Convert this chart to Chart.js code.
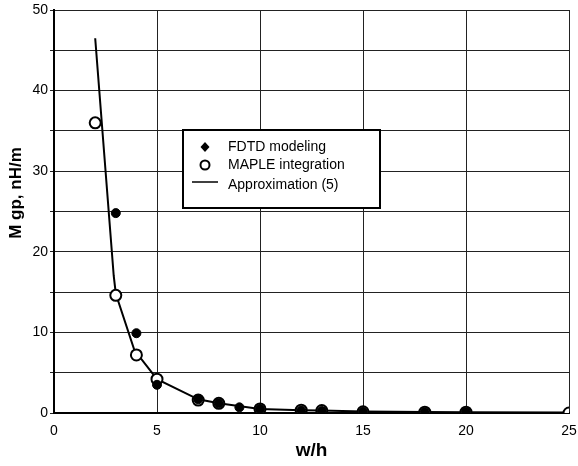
<!DOCTYPE html>
<html>
<head>
<meta charset="utf-8">
<script src="https://cdn.jsdelivr.net/npm/chart.js@4"></script>
<style>
  html, body { margin: 0; padding: 0; background: #fff; }
  #wrap { width: 578px; height: 466px; }
</style>
</head>
<body>
<div id="wrap"><canvas id="mgpChart" width="578" height="466"></canvas></div>
<script>
// data
const fdtdX = [3, 4, 5, 7, 8, 9, 10, 12, 13, 15, 18, 20];
const fdtdY = [24.8, 9.9, 3.5, 1.7, 1.2, 0.7, 0.5, 0.3, 0.25, 0.15, 0.1, 0.1];

const mapleX = [2, 3, 4, 5, 7, 8, 10, 12, 13, 15, 18, 20, 25];
const mapleY = [36, 14.6, 7.2, 4.2, 1.6, 1.2, 0.5, 0.35, 0.3, 0.15, 0.1, 0.1, 0.0];

const approxX = [2, 2.9, 3, 3.9, 5, 7, 8, 10, 12, 13, 15, 18, 20, 25];
const approxY = [46.5, 17, 14.8, 7.8, 4.2, 1.7, 1.2, 0.5, 0.35, 0.3, 0.2, 0.12, 0.1, 0.05];

const xTicks = [0, 5, 10, 15, 20, 25];
const yTicks = [0, 10, 20, 30, 40, 50];

const legendLabels = ["FDTD modeling", "MAPLE integration", "Approximation (5)"];
const yTitle = "M gp, nH/m";

const FONT = "'Liberation Sans', Arial, sans-serif";

const toPoints = (xs, ys) => xs.map((x, i) => ({ x, y: ys[i] }));

// legend box inside the plot + y title (sits a bit above centre in the original)
const boxLegend = {
  id: "boxLegend",
  afterDraw(chart) {
    const ctx = chart.ctx;
    const left = 183, top = 130, w = 197, h = 78;
    ctx.save();
    ctx.fillStyle = "#fff";
    ctx.fillRect(left, top, w, h);
    ctx.strokeStyle = "#000";
    ctx.lineWidth = 2;
    ctx.strokeRect(left, top, w, h);

    ctx.fillStyle = "#000";
    ctx.font = "14px " + FONT;
    ctx.textBaseline = "middle";
    const rows = [147, 165, 185];
    const mx = 205;

    // FDTD marker
    ctx.beginPath();
    ctx.moveTo(mx, rows[0] - 5);
    ctx.lineTo(mx + 4.5, rows[0]);
    ctx.lineTo(mx, rows[0] + 5);
    ctx.lineTo(mx - 4.5, rows[0]);
    ctx.closePath();
    ctx.fill();

    // MAPLE marker
    ctx.beginPath();
    ctx.arc(mx, rows[1], 4.5, 0, Math.PI * 2);
    ctx.lineWidth = 2;
    ctx.stroke();

    // approximation line
    ctx.beginPath();
    ctx.moveTo(192, rows[2] - 3);
    ctx.lineTo(218, rows[2] - 3);
    ctx.lineWidth = 1.5;
    ctx.stroke();

    ctx.fillText(legendLabels[0], 228, rows[0]);
    ctx.fillText(legendLabels[1], 228, rows[1]);
    ctx.fillText(legendLabels[2], 228, rows[2]);

    // y axis title
    ctx.translate(16, 193);
    ctx.rotate(-Math.PI / 2);
    ctx.font = "bold 17px " + FONT;
    ctx.textAlign = "center";
    ctx.fillText(yTitle, 0, 0);
    ctx.restore();
  }
};

new Chart(document.getElementById("mgpChart").getContext("2d"), {
  type: "scatter",
  data: {
    datasets: [
      {
        label: legendLabels[2],
        data: toPoints(approxX, approxY),
        showLine: true,
        borderColor: "#000",
        borderWidth: 2,
        pointRadius: 0,
        tension: 0,
        order: 3
      },
      {
        label: legendLabels[1],
        data: toPoints(mapleX, mapleY),
        showLine: false,
        pointStyle: "circle",
        pointRadius: 5.5,
        pointBorderWidth: 2,
        pointBorderColor: "#000",
        pointBackgroundColor: "#fff",
        order: 2
      },
      {
        label: legendLabels[0],
        data: toPoints(fdtdX, fdtdY),
        showLine: false,
        pointStyle: "circle",
        pointRadius: 4.5,
        pointBorderWidth: 1,
        pointBorderColor: "#000",
        pointBackgroundColor: "#000",
        order: 1
      }
    ]
  },
  options: {
    responsive: false,
    animation: false,
    layout: { padding: { top: 10, right: 9, left: 0, bottom: 0 } },
    plugins: {
      legend: { display: false },
      tooltip: { enabled: false }
    },
    scales: {
      x: {
        type: "linear",
        min: 0,
        max: 25,
        afterBuildTicks: axis => { axis.ticks = xTicks.map(v => ({ value: v })); },
        afterFit: axis => {
          axis.height = 53;
          axis.paddingLeft = 0;
          axis.paddingRight = 0;
        },
        grid: { color: "#222", lineWidth: 1, drawTicks: false },
        border: { color: "#000", width: 2 },
        ticks: { color: "#000", padding: 10, font: { family: FONT, size: 14 } },
        title: {
          display: true,
          text: "w/h",
          color: "#000",
          padding: { top: 2 },
          font: { family: FONT, size: 19, weight: "bold" }
        }
      },
      y: {
        type: "linear",
        min: 0,
        max: 50,
        afterBuildTicks: axis => {
          const t = [];
          for (let v = 0; v <= 50; v += 5) t.push({ value: v });
          axis.ticks = t;
        },
        afterFit: axis => {
          axis.width = 54;
          axis.paddingTop = 0;
          axis.paddingBottom = 0;
        },
        grid: { color: "#222", lineWidth: 1, tickLength: 4 },
        border: { color: "#000", width: 2 },
        ticks: {
          color: "#000",
          padding: 2,
          font: { family: FONT, size: 14 },
          callback: v => (yTicks.includes(v) ? String(v) : "")
        }
      }
    }
  },
  plugins: [boxLegend]
});
</script>
</body>
</html>
